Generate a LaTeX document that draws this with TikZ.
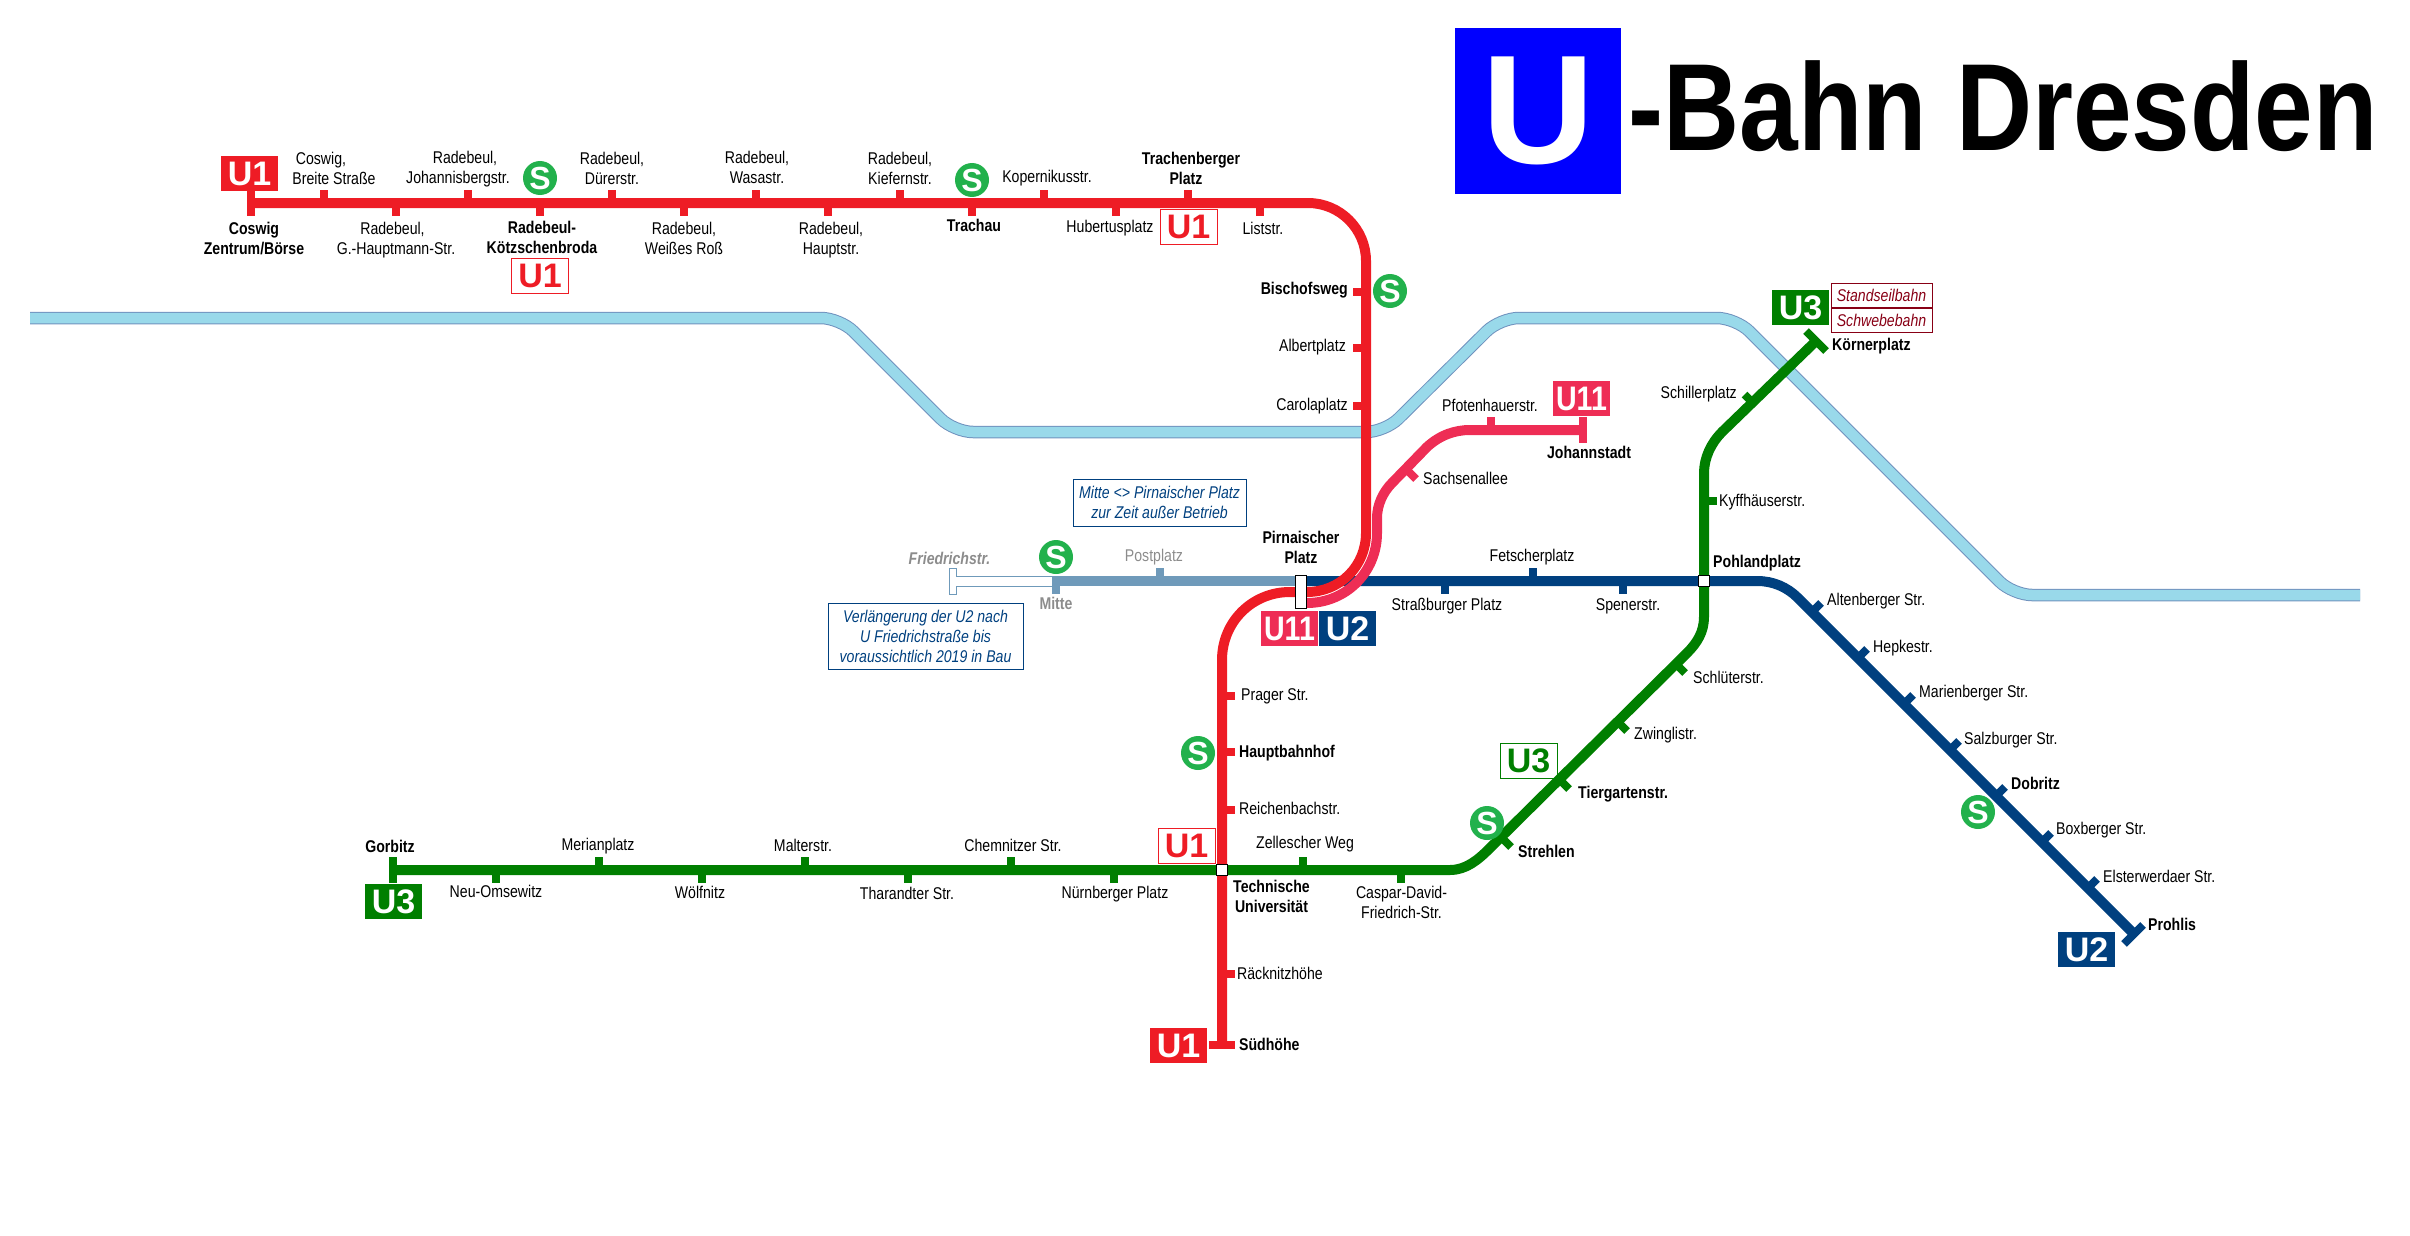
\documentclass[tikz,border=0pt]{standalone}
\usepackage{fontspec}
\setmainfont[FakeStretch=0.83]{Liberation Sans}
\newfontfamily\badgefont{Liberation Sans}
\newfontfamily\badgenarrow[FakeStretch=0.84]{Liberation Sans}
\newfontfamily\titlefont[FakeStretch=0.85]{Liberation Sans}
\usetikzlibrary{positioning}
\definecolor{ured}{HTML}{EE1C25}
\definecolor{upink}{HTML}{EE2D55}
\definecolor{unavy}{HTML}{00407F}
\definecolor{ugreen}{HTML}{007F00}
\definecolor{ulight}{HTML}{6F9ABA}
\definecolor{uwine}{HTML}{880015}
\definecolor{ulogoblue}{HTML}{0000FF}
\definecolor{sgreen}{HTML}{22B14C}
\definecolor{riverblue}{HTML}{99D9EA}
\definecolor{riveredge}{HTML}{7092BE}
\definecolor{fadedtext}{HTML}{8C8C8C}

\begin{document}
\begin{tikzpicture}[
    x=1pt, y=-1pt,
    line/.style={line width=10pt},
    stntick/.style={line width=8pt},
    stn/.style={font=\fontsize{17}{20}\selectfont, inner sep=0pt, align=center, yshift=-1pt,
        execute at begin node={\vphantom{Ag}}, execute at end node={\vphantom{Ag}}},
    stnbold/.style={stn, font=\fontsize{17}{20}\selectfont\bfseries},
    stnfaded/.style={stn, text=fadedtext},
    badge/.style={minimum width=57pt, minimum height=35pt, inner sep=0pt, font=\badgefont\bfseries\fontsize{34}{34}\selectfont},
    badgefill/.style={badge, fill=#1, text=white},
    badgeline/.style={badge, draw=#1, text=#1, line width=1pt},
    badgetight/.style={font=\badgenarrow\bfseries\fontsize{34}{34}\selectfont},
    sbahn/.style={circle, fill=sgreen, text=white, minimum size=34pt, inner sep=0pt, font=\badgefont\bfseries\fontsize{32}{32}\selectfont},
    notebox/.style={draw=#1, text=#1, line width=1pt, inner sep=0pt, align=center, font=\fontsize{17}{20}\selectfont\itshape},
]
\useasboundingbox (0,0) rectangle (2410,1236);

% ============================================================
% RIVER
% ============================================================
\draw[rounded corners=19pt, line width=1pt, draw=riveredge, double=riverblue, double distance=10.5pt]
    (30,318) -- (840,318) -- (954,432) -- (1385,432) -- (1500,318) -- (1736,318) -- (2013,595) -- (2360,595);

% ============================================================
% TITLE
% ============================================================
\node[fill=ulogoblue, text=white, minimum width=166pt, minimum height=166pt, inner sep=0pt,
    font=\badgefont\bfseries\fontsize{155}{155}\selectfont] (ulogo) at (1538,111) {U};
\node[anchor=base west, inner sep=0pt, font=\titlefont\bfseries\fontsize{124}{124}\selectfont] (utitle) at (1628,151) {-Bahn Dresden};

% ============================================================
% LINE U2
% ============================================================
% Extension to Friedrichstr.
\draw[ulight, line width=1pt, fill=white] (1056,576) -- (956.5,576) -- (956.5,568.5) -- (949,568.5) -- (949,594) -- (956.5,594) -- (956.5,586) -- (1056,586);

% Closed section
\draw[line, ulight] (1052,581) -- (1300,581);
\draw[stntick, ulight] (1056,581) -- (1056,594);
\draw[stntick, ulight] (1160,581) -- (1160,568);

% Main line
\draw[line, unavy] (1300,581) -- (1757,581) .. controls (1773,581) and (1787,587) .. (1798,598) -- (2134,934);
\draw[stntick, unavy] (1445,581) -- (1445,594);
\draw[stntick, unavy] (1533,581) -- (1533,568);
\draw[stntick, unavy] (1623,581) -- (1623,594);
\draw[stntick, unavy] (1812,612) -- (1821,603);
\draw[stntick, unavy] (1858,658) -- (1867,649);
\draw[stntick, unavy] (1904,704) -- (1913,695);
\draw[stntick, unavy] (1950,750) -- (1959,741);
\draw[stntick, unavy] (1996,796) -- (2005,787);
\draw[stntick, unavy] (2042,842) -- (2051,833);
\draw[stntick, unavy] (2088,888) -- (2097,879);
\draw[stntick, unavy] (2124,944) -- (2143,925);

% ============================================================
% LINE U3
% ============================================================
\draw[line, ugreen] (393,870) -- (1450,870) .. controls (1466,870) and (1478,860) .. (1490,848) -- (1687,653)
    .. controls (1697,643) and (1704,632) .. (1704,617) -- (1704,473)
    .. controls (1704,458) and (1711,443) .. (1722,432) -- (1816,341);
\draw[stntick, ugreen] (393,857) -- (393,883);
\draw[stntick, ugreen] (496,870) -- (496,883);
\draw[stntick, ugreen] (599,870) -- (599,857);
\draw[stntick, ugreen] (702,870) -- (702,883);
\draw[stntick, ugreen] (805,870) -- (805,857);
\draw[stntick, ugreen] (908,870) -- (908,883);
\draw[stntick, ugreen] (1011,870) -- (1011,857);
\draw[stntick, ugreen] (1114,870) -- (1114,883);
\draw[stntick, ugreen] (1303,870) -- (1303,857);
\draw[stntick, ugreen] (1401,870) -- (1401,883);
\draw[stntick, ugreen] (1502,838) -- (1511,847);
\draw[stntick, ugreen] (1560,780) -- (1569,789);
\draw[stntick, ugreen] (1618,722) -- (1627,731);
\draw[stntick, ugreen] (1676,664) -- (1685,673);
\draw[stntick, ugreen] (1704,501) -- (1717,501);
\draw[stntick, ugreen] (1753.5,403.5) -- (1744.5,394.5);
\draw[stntick, ugreen] (1806,331) -- (1826,351);

% ============================================================
% LINE U1
% ============================================================
\draw[line, ured] (251,203) -- (1308,203) .. controls (1340,203) and (1366,229) .. (1366,261) -- (1366,533)
    .. controls (1366,566) and (1340,592) .. (1307,592) -- (1290,592)
    .. controls (1252,592) and (1222,622) .. (1222,660) -- (1222,1045);
\draw[stntick, ured] (251,190) -- (251,216);
\draw[stntick, ured] (323.5,203) -- (323.5,190);
\draw[stntick, ured] (395.5,203) -- (395.5,216);
\draw[stntick, ured] (467.5,203) -- (467.5,190);
\draw[stntick, ured] (539.5,203) -- (539.5,216);
\draw[stntick, ured] (611.5,203) -- (611.5,190);
\draw[stntick, ured] (683.5,203) -- (683.5,216);
\draw[stntick, ured] (755.5,203) -- (755.5,190);
\draw[stntick, ured] (827.5,203) -- (827.5,216);
\draw[stntick, ured] (899.5,203) -- (899.5,190);
\draw[stntick, ured] (971.5,203) -- (971.5,216);
\draw[stntick, ured] (1043.5,203) -- (1043.5,190);
\draw[stntick, ured] (1116,203) -- (1116,216);
\draw[stntick, ured] (1188,203) -- (1188,190);
\draw[stntick, ured] (1260,203) -- (1260,216);
\draw[stntick, ured] (1366,292) -- (1353,292);
\draw[stntick, ured] (1366,348) -- (1353,348);
\draw[stntick, ured] (1366,406) -- (1353,406);
\draw[stntick, ured] (1222,696) -- (1235,696);
\draw[stntick, ured] (1222,752) -- (1235,752);
\draw[stntick, ured] (1222,810) -- (1235,810);
\draw[stntick, ured] (1222,974) -- (1235,974);
\draw[stntick, ured] (1209,1045) -- (1235,1045);

% ============================================================
% LINE U11
% ============================================================
\draw[line, upink] (1307,603) .. controls (1346,603) and (1377,572) .. (1377,533) -- (1377,518)
    .. controls (1377,505) and (1383,492) .. (1392,483) -- (1427,447)
    .. controls (1440,435) and (1455,430) .. (1470,430) -- (1583,430);
\draw[stntick, upink] (1491,430) -- (1491,417);
\draw[stntick, upink] (1407,470) -- (1416,479);
\draw[stntick, upink] (1583,417) -- (1583,443);

% Interchanges
\node[draw=black, fill=white, line width=1pt, minimum width=11pt, minimum height=33pt, inner sep=0pt] (pirnaischer) at (1301,591.5) {};
\node[draw=black, fill=white, line width=1pt, minimum size=11pt, inner sep=0pt] (tu) at (1222,870) {};
\node[draw=black, fill=white, line width=1pt, minimum size=11pt, inner sep=0pt] (pohland) at (1704,581) {};

% ============================================================
% LINE BADGES
% ============================================================
\node[badgefill=ured] (tagcoswig) at (249.5,173.5) {U1};
\node[badgeline=ured] (tagkoetz) at (540,275.5) {U1};
\node[badgeline=ured] (tagtrachen) at (1188.5,226.5) {U1};
\node[badgefill=upink, badgetight] (tagjohann) at (1581.5,398.5) {U11};
\node[badgefill=upink, badgetight] (tagpirnA) at (1289.5,628.5) {U11};
\node[badgefill=unavy] (tagpirnB) at (1347.5,628.5) {U2};
\node[badgefill=ugreen] (tagkoerner) at (1800.5,307.5) {U3};
\node[badgeline=ugreen] (tagtiergarten) at (1528.5,760.5) {U3};
\node[badgeline=ured] (tagtu) at (1186.5,845.5) {U1};
\node[badgefill=ured] (tagsued) at (1178.5,1045.5) {U1};
\node[badgefill=ugreen] (taggorbitz) at (393.5,901.5) {U3};
\node[badgefill=unavy] (tagprohlis) at (2086.5,949.5) {U2};

% ============================================================
% S-BAHN SYMBOLS
% ============================================================
\node[sbahn] (skoetz) at (540,178) {S};
\node[sbahn] (strachau) at (972,180) {S};
\node[sbahn] (sbischof) at (1390,291) {S};
\node[sbahn] (smitte) at (1056,557) {S};
\node[sbahn] (shbf) at (1198,753) {S};
\node[sbahn] (sstrehlen) at (1487,823) {S};
\node[sbahn] (sdobritz) at (1978,812) {S};

% ============================================================
% NOTES
% ============================================================
\node[notebox=unavy, minimum width=173pt, minimum height=47pt] (notemitte) at (1159.5,502.5) {Mitte <> Pirnaischer Platz\\zur Zeit außer Betrieb};
\node[notebox=unavy, minimum width=195pt, minimum height=66pt] (notefried) at (925.5,636) {Verlängerung der U2 nach\\U Friedrichstraße bis\\voraussichtlich 2019 in Bau};
\node[notebox=uwine, minimum width=101pt, minimum height=24pt] (notestand) at (1881.5,295) {Standseilbahn};
\node[notebox=uwine, minimum width=101pt, minimum height=24pt] (noteschwebe) at (1881.5,320) {Schwebebahn};

% ============================================================
% STATIONS U1
% ============================================================
\node[stn] (coswigbreite) at (334,169) {\hspace*{-26pt}Coswig,\\Breite Straße};
\node[stnbold] (coswigzentrum) at (254,239) {Coswig\\Zentrum/Börse};
\node[stn] (johannisberg) at (458,168) {\hspace*{14pt}Radebeul,\\Johannisbergstr.};
\node[stn] (hauptmann) at (396,239) {\hspace*{-7pt}Radebeul,\\G.-Hauptmann-Str.};
\node[stn] (duerer) at (612,169) {Radebeul,\\Dürerstr.};
\node[stnbold] (koetzschen) at (542,238) {Radebeul-\\Kötzschenbroda};
\node[stn] (wasa) at (757,168) {Radebeul,\\Wasastr.};
\node[stn] (weisses) at (684,239) {Radebeul,\\Weißes Roß};
\node[stn] (kiefern) at (900,169) {Radebeul,\\Kiefernstr.};
\node[stn] (radhaupt) at (831,239) {Radebeul,\\Hauptstr.};
\node[stnbold] (trachau) at (974,226) {Trachau};
\node[stn] (kopernikus) at (1047,177) {Kopernikusstr.};
\node[stn] (hubertus) at (1110,227.5) {Hubertusplatz};
\node[stnbold] (trachen) at (1191,169.5) {Trachenberger\\\hspace*{-10pt}Platz};
\node[stn] (list) at (1263,229) {Liststr.};
\node[stnbold, anchor=east] (bischof) at (1348,289) {Bischofsweg};
\node[stn, anchor=east] (albert) at (1346,346) {Albertplatz};
\node[stn, anchor=east] (carola) at (1348,405) {Carolaplatz};
\node[stnbold] (pirnlabel) at (1301,548.5) {Pirnaischer\\Platz};
\node[stn, anchor=west] (prager) at (1241,695) {Prager Str.};
\node[stnbold, anchor=west] (hbf) at (1239,752) {Hauptbahnhof};
\node[stn, anchor=west] (reichenbach) at (1239,809) {Reichenbachstr.};
\node[stnbold] (tulabel) at (1271.5,897) {Technische\\Universität};
\node[stn, anchor=west] (raecknitz) at (1237,974) {Räcknitzhöhe};
\node[stnbold, anchor=west] (suedhoehe) at (1239,1045) {Südhöhe};

% ============================================================
% STATIONS U11
% ============================================================
\node[stn, anchor=west] (sachsen) at (1423,479) {Sachsenallee};
\node[stn] (pfoten) at (1490,406) {Pfotenhauerstr.};
\node[stnbold] (johann) at (1589,453) {Johannstadt};

% ============================================================
% STATIONS U2
% ============================================================
\node[stnfaded, font=\fontsize{17}{20}\selectfont\bfseries\itshape] (fried) at (949.5,559) {Friedrichstr.};
\node[stnfaded, font=\fontsize{17}{20}\selectfont\bfseries] (mitte) at (1056,604) {Mitte};
\node[stnfaded] (post) at (1154,556) {Postplatz};
\node[stn] (strassburg) at (1447,605) {Straßburger Platz};
\node[stn] (fetscher) at (1532,556) {Fetscherplatz};
\node[stn] (spener) at (1628,605) {Spenerstr.};
\node[stnbold, anchor=west] (pohlandlabel) at (1713,562) {Pohlandplatz};
\node[stn, anchor=west] (altenberg) at (1827,600) {Altenberger Str.};
\node[stn, anchor=west] (hepke) at (1873,647) {Hepkestr.};
\node[stn, anchor=west] (marien) at (1919,692) {Marienberger Str.};
\node[stn, anchor=west] (salz) at (1964,739) {Salzburger Str.};
\node[stnbold, anchor=west] (dobritz) at (2011,784) {Dobritz};
\node[stn, anchor=west] (boxberg) at (2056,829) {Boxberger Str.};
\node[stn, anchor=west] (elster) at (2103,877) {Elsterwerdaer Str.};
\node[stnbold, anchor=west] (prohlis) at (2148,925) {Prohlis};

% ============================================================
% STATIONS U3
% ============================================================
\node[stnbold] (gorbitz) at (390,847) {Gorbitz};
\node[stn] (neuoms) at (496,892) {Neu-Omsewitz};
\node[stn] (merian) at (598,845) {Merianplatz};
\node[stn] (woelfnitz) at (700,893) {Wölfnitz};
\node[stn] (malter) at (803,846) {Malterstr.};
\node[stn] (tharandt) at (907,894) {Tharandter Str.};
\node[stn] (chemnitz) at (1013,846) {Chemnitzer Str.};
\node[stn] (nuernberg) at (1115,893) {Nürnberger Platz};
\node[stn] (zellesch) at (1305,843) {Zellescher Weg};
\node[stn] (caspar) at (1401.5,903) {Caspar-David-\\Friedrich-Str.};
\node[stnbold, anchor=west] (strehlen) at (1518,852) {Strehlen};
\node[stnbold, anchor=west] (tiergarten) at (1578,793) {Tiergartenstr.};
\node[stn, anchor=west] (zwingli) at (1634,734) {Zwinglistr.};
\node[stn, anchor=west] (schlueter) at (1693,678) {Schlüterstr.};
\node[stn, anchor=west] (kyff) at (1719,501) {Kyffhäuserstr.};
\node[stn, anchor=east] (schiller) at (1737,393) {Schillerplatz};
\node[stnbold, anchor=west] (koerner) at (1832,345) {Körnerplatz};

\end{tikzpicture}
\end{document}
